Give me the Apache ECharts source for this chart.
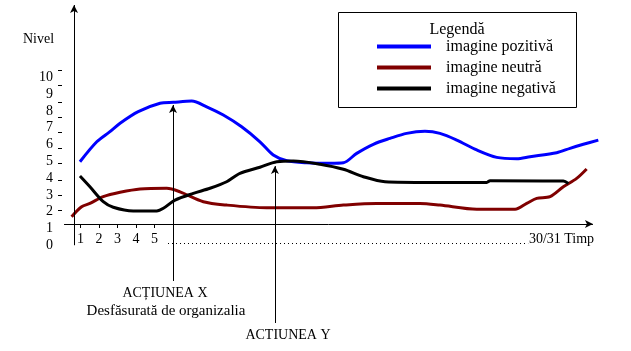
<!DOCTYPE html>
<html>
<head>
    <meta charset="UTF-8">
    <title>Nivel imagine</title>
    <script src="https://cdn.jsdelivr.net/npm/echarts@6/dist/echarts.min.js"></script>
    <style>
        html, body { margin: 0; padding: 0; background: #fff; }
    </style>
</head>
<body>
<div id="main" style="width: 631px;height: 351px;"></div>
<script type="text/javascript">
    // [zi, nivel]
    var pozitiva = [[0.97, 4.97], [1.88, 6.16], [2.59, 6.76], [3.14, 7.26], [4.12, 7.95], [5.30, 8.45], [6.02, 8.51],
        [7.01, 8.58], [7.82, 8.24], [8.72, 7.75], [9.71, 7.05], [10.70, 6.16], [11.42, 5.37], [12.15, 5.03],
        [13.23, 4.91], [14.49, 4.88], [15.21, 4.91], [15.93, 5.47], [16.83, 6.01], [17.73, 6.36], [18.63, 6.66],
        [19.62, 6.78], [20.43, 6.66], [21.34, 6.26], [22.42, 5.67], [23.50, 5.23], [24.58, 5.15], [25.30, 5.27],
        [26.74, 5.51], [27.46, 5.77], [28.18, 6.01], [28.99, 6.26]];
    var neutra = [[0.52, 1.70], [1.06, 2.29], [1.51, 2.49], [2.23, 2.89], [3.14, 3.15], [4.22, 3.35], [5.66, 3.39],
        [6.38, 3.18], [7.64, 2.59], [8.90, 2.39], [11.06, 2.23], [13.58, 2.23], [15.21, 2.39], [17.01, 2.49],
        [19.35, 2.49], [20.43, 2.39], [22.42, 2.14], [24.49, 2.14], [25.12, 2.49], [25.66, 2.79], [26.38, 2.89],
        [27.10, 3.48], [27.82, 3.98], [28.36, 4.54]];
    var negativa = [[0.97, 4.12], [1.51, 3.48], [2.23, 2.59], [2.77, 2.26], [3.85, 2.04], [5.12, 2.04], [5.48, 2.20],
        [6.11, 2.69], [7.10, 3.09], [8.00, 3.39], [8.90, 3.78], [9.62, 4.28], [10.70, 4.64], [11.61, 4.97],
        [12.50, 5.01], [13.95, 4.82], [15.21, 4.52], [16.29, 4.08], [17.46, 3.78], [19.89, 3.74], [22.96, 3.74],
        [23.14, 3.84], [27.10, 3.82], [27.37, 3.68]];

    var yLabels = [0, 1, 2, 3, 4, 5, 6, 7, 8, 9, 10];
    var yTicks = [10.43, 9.54, 8.52, 7.63, 6.74, 5.79, 4.89, 3.88, 2.99, 2.10];
    var xTicks = [1, 2, 3, 4, 5];
    var xLabels = [1, 2, 3, 4, 5, 27];

    // axe si sageti (zi, nivel)
    var axaY = [[0.65, 0], [0.65, 14.3]];
    var axaX = [[0.11, 1.26], [28.7, 1.26]];
    var actiuneX = [[6.0, -2.13], [6.0, 8.35]];
    var actiuneY = [[11.51, -4.63], [11.51, 4.71]];
    var puncte = [[5.73, 0.13], [25.2, 0.13]];

    var serif = '"Liberation Serif", "DejaVu Serif", serif';

    function seg(p, style) {
        return [{coord: p[0], lineStyle: style}, {coord: p[1]}];
    }

    var chartDom = document.getElementById('main');
    var myChart = echarts.init(chartDom);
    var option;

    option = {
        animation: false,
        grid: {
            left: 62,
            right: 14,
            top: 0,
            bottom: 5
        },
        xAxis: {
            type: 'value',
            min: 0,
            max: 30,
            offset: -122,
            axisLine: {show: false, onZero: false},
            splitLine: {show: false},
            axisTick: {
                show: true,
                customValues: xTicks,
                length: 4,
                lineStyle: {color: '#000'}
            },
            axisLabel: {
                customValues: xLabels,
                margin: 8,
                color: '#000',
                fontFamily: serif,
                fontSize: 14,
                formatter: function (v) {
                    return v === 27 ? '30/31 Timp' : String(v);
                }
            }
        },
        yAxis: {
            type: 'value',
            min: -6,
            max: 14.6,
            axisLine: {show: false},
            splitLine: {show: false},
            axisTick: {
                show: true,
                customValues: yTicks,
                length: 4,
                lineStyle: {color: '#000'}
            },
            axisLabel: {
                customValues: yLabels,
                margin: 9,
                color: '#000',
                fontFamily: serif,
                fontSize: 14
            }
        },
        legend: {
            data: ['imagine pozitivă', 'imagine neutră', 'imagine negativă'],
            orient: 'vertical',
            left: 377,
            top: 38,
            padding: 0,
            itemGap: 4,
            itemWidth: 54,
            itemHeight: 4,
            icon: 'rect',
            selectedMode: false,
            textStyle: {
                color: '#000',
                fontFamily: serif,
                fontSize: 16,
                lineHeight: 17,
                padding: [0, 0, 0, 10]
            }
        },
        graphic: [
            {
                type: 'rect',
                shape: {x: 338.5, y: 12.5, width: 238, height: 95},
                style: {fill: 'none', stroke: '#000', lineWidth: 1}
            },
            {
                type: 'text', x: 457, y: 30,
                style: {text: 'Legendă', font: '16px ' + serif, fill: '#000', align: 'center', verticalAlign: 'middle'}
            },
            {
                type: 'text', x: 23, y: 39,
                style: {text: 'Nivel', font: '14px ' + serif, fill: '#000', align: 'left', verticalAlign: 'middle'}
            },
            {
                type: 'text', x: 165, y: 293,
                style: {text: 'ACȚIUNEA X', font: '14px ' + serif, fill: '#000', align: 'center', verticalAlign: 'middle'}
            },
            {
                type: 'text', x: 166, y: 311,
                style: {text: 'Desfăsurată de organizalia', font: '15px ' + serif, fill: '#000', align: 'center', verticalAlign: 'middle'}
            },
            {
                type: 'text', x: 288, y: 335,
                style: {text: 'ACTIUNEA Y', font: '14px ' + serif, fill: '#000', align: 'center', verticalAlign: 'middle'}
            }
        ],
        series: [
            {
                name: 'imagine pozitivă',
                type: 'line',
                data: pozitiva,
                smooth: 0.3,
                showSymbol: false,
                color: '#0000ff',
                lineStyle: {width: 3, color: '#0000ff'},
                z: 3
            },
            {
                name: 'imagine neutră',
                type: 'line',
                data: neutra,
                smooth: 0.3,
                showSymbol: false,
                color: '#800000',
                lineStyle: {width: 3, color: '#800000'},
                z: 3
            },
            {
                name: 'imagine negativă',
                type: 'line',
                data: negativa,
                smooth: 0.3,
                showSymbol: false,
                color: '#000000',
                lineStyle: {width: 3, color: '#000000'},
                z: 3
            },
            {
                name: 'axe',
                type: 'line',
                data: [],
                clip: false,
                markLine: {
                    silent: true,
                    symbol: ['none', 'arrow'],
                    symbolSize: [6, 8],
                    label: {show: false},
                    lineStyle: {color: '#000', width: 1, type: 'solid'},
                    data: [
                        seg(axaY),
                        seg(axaX),
                        seg(actiuneX),
                        seg(actiuneY)
                    ]
                },
                z: 4
            },
            {
                name: 'puncte',
                type: 'line',
                data: [],
                clip: false,
                markLine: {
                    silent: true,
                    symbol: ['none', 'none'],
                    label: {show: false},
                    lineStyle: {color: '#000', width: 1, type: [1, 3]},
                    data: [seg(puncte)]
                }
            }
        ]
    };

    option && myChart.setOption(option);
</script>
</body>
</html>
